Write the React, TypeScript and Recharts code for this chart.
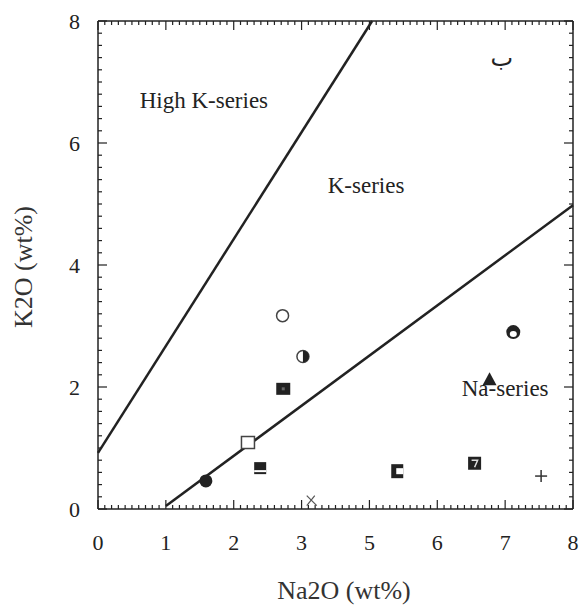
import React from 'react';
import { ScatterChart, Scatter, XAxis, YAxis } from 'recharts';

// ---- data ----
const xTickLabels = ['0', '1', '2', '3', '5', '6', '7', '8'];
const xTickValues = [0, 1, 2, 3, 4, 5, 6, 7];
const yTickLabels = ['0', '2', '4', '6', '8'];
const yTickValues = [0, 2, 4, 6, 8];

const sampleX = [1.59, 2.21, 2.39, 2.73, 2.72, 3.02, 3.15, 4.41, 5.55, 5.77, 6.12, 6.53];
const sampleY = [0.46, 1.09, 0.67, 1.97, 3.17, 2.5, 0.12, 0.62, 0.75, 2.11, 2.9, 0.54];
const sampleKind = [
  'dotFilled', 'squareOpen', 'squareHalf', 'squareFilled', 'circleOpen', 'circleHalf',
  'cross', 'squareC', 'squareSeven', 'triangle', 'circleRing', 'plus',
];

const upperLineX = [0, 4.04];
const upperLineY = [0.92, 8];
const lowerLineX = [1.0, 7.0];
const lowerLineY = [0.05, 4.98];

const regionNames = ['High K-series', 'K-series', 'Na-series', 'ب'];
const regionX = [1.56, 3.95, 6.0, 5.95];
const regionY = [6.7, 5.31, 1.98, 7.39];

const xTitle = 'Na2O (wt%)';
const yTitle = 'K2O (wt%)';

// ---- derived ----
const samples = sampleX.map((x, i) => ({ x, y: sampleY[i], kind: sampleKind[i] }));
const upperLine = upperLineX.map((x, i) => ({ x, y: upperLineY[i] }));
const lowerLine = lowerLineX.map((x, i) => ({ x, y: lowerLineY[i] }));
const regions = regionNames.map((name, i) => ({ x: regionX[i], y: regionY[i], name }));

const xMinor: number[] = [];
for (let i = 0; i <= 70; i++) xMinor.push(i / 10);
const yMinor: number[] = [];
for (let i = 0; i <= 40; i++) yMinor.push(i / 5);

const bottomTicks = xMinor.map((x) => ({ x, y: 0, major: Math.abs(x - Math.round(x)) < 1e-6 }));
const topTicks = xMinor.map((x) => ({ x, y: 8, major: Math.abs(x - Math.round(x)) < 1e-6 }));
const leftTicks = yMinor.map((y) => ({ x: 0, y, major: Math.abs(y / 2 - Math.round(y / 2)) < 1e-6 }));
const rightTicks = yMinor.map((y) => ({ x: 7, y, major: Math.abs(y / 2 - Math.round(y / 2)) < 1e-6 }));

const INK = '#222222';
const SERIF = '"Liberation Serif", "DejaVu Serif", serif';

const UpTick = (p: any) => {
  const len = p.payload.major ? 9 : 4;
  return <rect x={p.cx - 0.6} y={p.cy - len} width={1.2} height={len} fill={INK} />;
};
const DownTick = (p: any) => {
  const len = p.payload.major ? 9 : 4;
  return <rect x={p.cx - 0.6} y={p.cy} width={1.2} height={len} fill={INK} />;
};
const RightwardTick = (p: any) => {
  const len = p.payload.major ? 9 : 4;
  return <rect x={p.cx} y={p.cy - 0.6} width={len} height={1.2} fill={INK} />;
};
const LeftwardTick = (p: any) => {
  const len = p.payload.major ? 9 : 4;
  return <rect x={p.cx - len} y={p.cy - 0.6} width={len} height={1.2} fill={INK} />;
};

const RegionText = (p: any) => {
  const name = p.payload.name;
  const arabic = name === 'ب';
  return (
    <text
      x={p.cx}
      y={p.cy}
      textAnchor="middle"
      dominantBaseline="central"
      fontSize={arabic ? 24 : 23}
      fontFamily={arabic ? '"DejaVu Sans", sans-serif' : SERIF}
      fill={INK}
    >
      {name}
    </text>
  );
};

const SampleShape = (p: any) => {
  const { cx, cy } = p;
  const kind = p.payload.kind;
  switch (kind) {
    case 'dotFilled':
      return <circle cx={cx} cy={cy} r={6.5} fill={INK} />;
    case 'squareOpen':
      return <rect x={cx - 6.5} y={cy - 6} width={13} height={12} fill="#fff" stroke="#444" strokeWidth={1.5} />;
    case 'squareHalf':
      return (
        <g>
          <rect x={cx - 6} y={cy - 6} width={12} height={12} fill={INK} />
          <rect x={cx - 6} y={cy + 2} width={12} height={2} fill="#fff" />
        </g>
      );
    case 'squareFilled':
      return (
        <g>
          <rect x={cx - 7} y={cy - 6} width={14} height={12} fill={INK} />
          <rect x={cx - 1.5} y={cy - 1.5} width={3} height={3} fill="#666" />
        </g>
      );
    case 'circleOpen':
      return <circle cx={cx} cy={cy} r={6} fill="#fff" stroke="#444" strokeWidth={1.5} />;
    case 'circleHalf':
      return (
        <g>
          <circle cx={cx} cy={cy} r={6} fill="#fff" stroke="#444" strokeWidth={1.5} />
          <path d={`M ${cx} ${cy - 6} A 6 6 0 0 1 ${cx} ${cy + 6} Z`} fill={INK} />
        </g>
      );
    case 'cross':
      return (
        <g stroke="#555" strokeWidth={1.2}>
          <line x1={cx - 5} y1={cy - 6} x2={cx + 5} y2={cy + 4} />
          <line x1={cx - 5} y1={cy + 4} x2={cx + 3} y2={cy - 6} />
        </g>
      );
    case 'squareC':
      return (
        <g>
          <rect x={cx - 6} y={cy - 7} width={12} height={14} fill={INK} />
          <rect x={cx - 1} y={cy - 3} width={7} height={6} fill="#fff" />
        </g>
      );
    case 'squareSeven':
      return (
        <g>
          <rect x={cx - 6.5} y={cy - 6.5} width={13} height={13} fill={INK} />
          <path d={`M ${cx - 3} ${cy - 3} L ${cx + 3} ${cy - 3} L ${cx} ${cy + 4}`} stroke="#ddd" strokeWidth={1.5} fill="none" />
        </g>
      );
    case 'triangle':
      return <path d={`M ${cx} ${cy - 8} L ${cx + 7} ${cy + 5} L ${cx - 7} ${cy + 5} Z`} fill={INK} />;
    case 'circleRing':
      return (
        <g>
          <circle cx={cx} cy={cy} r={7} fill={INK} />
          <ellipse cx={cx} cy={cy + 2} rx={3.5} ry={3} fill="#fff" />
        </g>
      );
    case 'plus':
      return (
        <g stroke="#333" strokeWidth={1.5}>
          <line x1={cx - 6} y1={cy} x2={cx + 6} y2={cy} />
          <line x1={cx} y1={cy - 6} x2={cx} y2={cy + 6} />
        </g>
      );
    default:
      return <circle cx={cx} cy={cy} r={5} fill={INK} />;
  }
};

const NoShape = () => <g />;

const tickStyle = { fontSize: 22, fontFamily: SERIF, fill: INK };

export default function App() {
  return (
    <div style={{ position: 'absolute', left: 0, top: 0, width: 583, height: 606, background: '#fff' }}>
      <ScatterChart width={583} height={606} margin={{ top: 20, right: 9, bottom: 37, left: 48 }}>
        <XAxis
          type="number"
          dataKey="x"
          domain={[0, 7]}
          ticks={xTickValues}
          interval={0}
          tickFormatter={(v: number) => xTickLabels[xTickValues.indexOf(v)] ?? ''}
          tick={tickStyle}
          tickLine={false}
          tickMargin={19}
          axisLine={{ stroke: INK, strokeWidth: 1.5 }}
          height={60}
        />
        <XAxis
          xAxisId="top"
          orientation="top"
          type="number"
          dataKey="x"
          domain={[0, 7]}
          tick={false}
          tickLine={false}
          axisLine={{ stroke: INK, strokeWidth: 1.5 }}
          height={1}
        />
        <YAxis
          type="number"
          dataKey="y"
          domain={[0, 8]}
          ticks={yTickValues}
          interval={0}
          tickFormatter={(v: number) => yTickLabels[yTickValues.indexOf(v)] ?? ''}
          tick={tickStyle}
          tickLine={false}
          tickMargin={12}
          axisLine={{ stroke: INK, strokeWidth: 1.5 }}
          width={50}
        />
        <YAxis
          yAxisId="right"
          orientation="right"
          type="number"
          dataKey="y"
          domain={[0, 8]}
          tick={false}
          tickLine={false}
          axisLine={{ stroke: INK, strokeWidth: 1.5 }}
          width={1}
        />

        <Scatter data={bottomTicks} shape={UpTick} isAnimationActive={false} />
        <Scatter data={topTicks} shape={DownTick} isAnimationActive={false} />
        <Scatter data={leftTicks} shape={RightwardTick} isAnimationActive={false} />
        <Scatter data={rightTicks} shape={LeftwardTick} isAnimationActive={false} />

        <Scatter
          data={upperLine}
          line={{ stroke: INK, strokeWidth: 2.5 }}
          shape={NoShape}
          isAnimationActive={false}
        />
        <Scatter
          data={lowerLine}
          line={{ stroke: INK, strokeWidth: 2.5 }}
          shape={NoShape}
          isAnimationActive={false}
        />

        <Scatter data={regions} shape={RegionText} isAnimationActive={false} />
        <Scatter data={samples} shape={SampleShape} isAnimationActive={false} />
      </ScatterChart>
      <div
        style={{
          position: 'absolute',
          left: 344,
          top: 578,
          transform: 'translateX(-50%)',
          fontFamily: SERIF,
          fontSize: 26,
          lineHeight: '26px',
          whiteSpace: 'nowrap',
          color: '#333',
        }}
      >
        {xTitle}
      </div>
      <div
        style={{
          position: 'absolute',
          left: 24,
          top: 267,
          transform: 'translate(-50%, -50%) rotate(-90deg)',
          fontFamily: SERIF,
          fontSize: 26,
          lineHeight: '26px',
          whiteSpace: 'nowrap',
          color: '#333',
        }}
      >
        {yTitle}
      </div>
    </div>
  );
}
